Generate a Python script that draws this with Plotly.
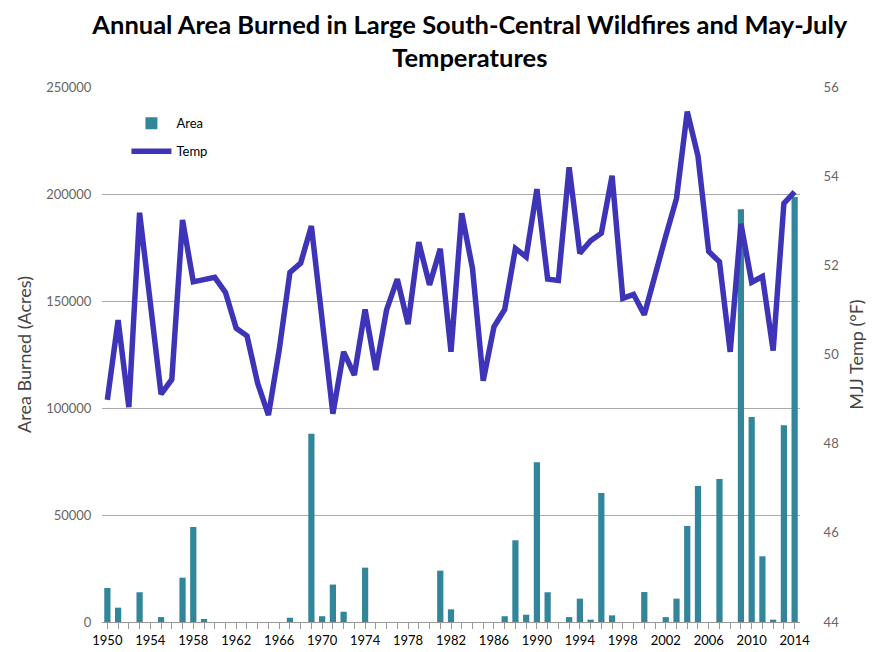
import plotly.graph_objects as go

years = list(range(1950, 2015))

area_burned = [
    15900, 6700, 0, 13900, 0, 2300, 0, 20700, 44400, 1400,      # 1950-1959
    0, 0, 0, 0, 0, 0, 0, 2000, 0, 88000,                        # 1960-1969
    2700, 17500, 4800, 0, 25400, 0, 0, 0, 0, 0,                 # 1970-1979
    0, 24000, 5900, 0, 0, 0, 0, 2700, 38200, 3400,              # 1980-1989
    74600, 13900, 0, 2300, 10900, 1100, 60300, 3100, 0, 0,      # 1990-1999
    14000, 0, 2300, 10900, 44900, 63500, 0, 66800, 0, 192900,   # 2000-2009
    95800, 30700, 1100, 91900, 198600,                          # 2010-2014
]

mjj_temp = [
    48.98, 50.77, 48.82, 53.18, 51.16, 49.11, 49.44, 53.02, 51.63, 51.69,
    51.73, 51.39, 50.59, 50.42, 49.35, 48.64, 50.10, 51.84, 52.05, 52.88,
    50.77, 48.67, 50.06, 49.54, 51.01, 49.65, 51.00, 51.69, 50.68, 52.52,
    51.56, 52.37, 50.06, 53.17, 51.93, 49.41, 50.62, 51.01, 52.38, 52.19,
    53.71, 51.69, 51.66, 54.20, 52.27, 52.55, 52.72, 54.01, 51.26, 51.35,
    50.89, 51.81, 52.66, 53.50, 55.45, 54.45, 52.31, 52.08, 50.06, 52.93,
    51.62, 51.75, 50.09, 53.39, 53.65,
]

font_family = "Lato, 'Open Sans', sans-serif"

fig = go.Figure()

fig.add_trace(go.Bar(
    x=years, y=area_burned, name="Area", legendgroup="area",
    marker=dict(color="#31869b", line=dict(width=0)),
    yaxis="y",
))

fig.add_trace(go.Scatter(
    x=years, y=mjj_temp, name="Temp", mode="lines", legendgroup="temp",
    line=dict(color="#3d34b8", width=5.5),
    yaxis="y2",
))

# page body has an 8px margin, so the figure is a bit smaller than the window
fig.update_layout(
    width=873, height=644,
    margin=dict(l=94, r=81, t=79, b=30),
    paper_bgcolor="white", plot_bgcolor="white",
    font=dict(family=font_family, color="#555555", size=13),
    title=dict(
        text="<b>Annual Area Burned in Large South-Central Wildfires and May-July<br>Temperatures</b>",
        x=0.529, xanchor="center", yref="container", y=0.96, yanchor="middle",
        font=dict(size=25.5, color="black", family=font_family),
    ),
    bargap=0.42,
    showlegend=True,
    legend=dict(
        x=0.035, y=0.96, xanchor="left", yanchor="top",
        bgcolor="rgba(0,0,0,0)", font=dict(size=13, color="black"),
        tracegroupgap=8, itemwidth=40,
    ),
    xaxis=dict(
        range=[1949.5, 2014.5], automargin=False,
        tickmode="linear", tick0=1950, dtick=4,
        ticks="outside", ticklen=6, tickcolor="#999999",
        minor=dict(dtick=1, ticks="outside", ticklen=6, tickcolor="#999999"),
        showline=True, linecolor="#999999", linewidth=1,
        showgrid=False, zeroline=False,
        tickfont=dict(size=13, color="black"),
    ),
    yaxis=dict(
        range=[0, 250000], tickmode="linear", tick0=0, dtick=50000,
        tickformat="d", automargin=False,
        showgrid=True, gridcolor="#aaaaaa", gridwidth=1,
        ticks="outside", ticklen=7, tickcolor="rgba(0,0,0,0)",
        showline=False, zeroline=False,
        tickfont=dict(size=13, color="#666666"),
        title=dict(text="Area Burned (Acres)", font=dict(size=18, color="#444444"), standoff=9),
    ),
    yaxis2=dict(
        range=[44, 56], tickmode="linear", tick0=44, dtick=2,
        overlaying="y", side="right", automargin=False,
        showgrid=False, zeroline=False, showline=False,
        ticks="outside", ticklen=20, tickcolor="rgba(0,0,0,0)",
        tickfont=dict(size=13, color="#666666"),
        title=dict(text="MJJ Temp (°F)", font=dict(size=18, color="#444444"), standoff=12),
    ),
)

fig.write_html("out.html")
